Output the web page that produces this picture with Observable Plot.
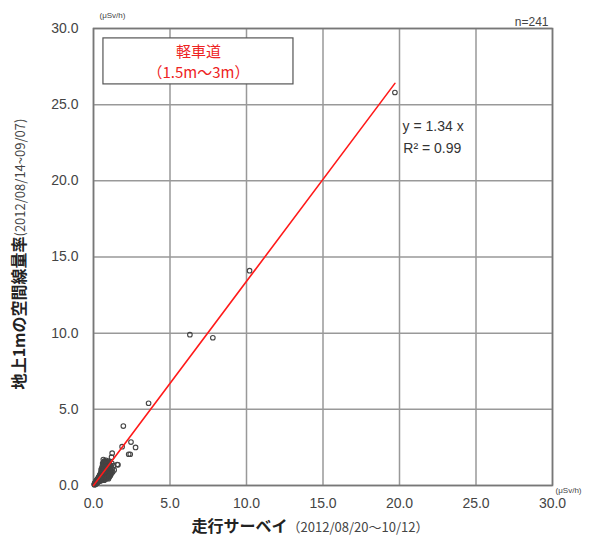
<!DOCTYPE html>
<html><head><meta charset="utf-8">
<script src="https://cdn.jsdelivr.net/npm/d3@7"></script>
<script src="https://cdn.jsdelivr.net/npm/@observablehq/plot@0.6"></script>
<style>
body{margin:0;background:#fff;}
#chart svg{display:block;}
</style>
</head><body><div id="chart"></div>
<script>
// Measurements: [走行サーベイ (x), 地上1m空間線量率 (y)]  μSv/h
const measurements = [
[19.7,25.8],[10.2,14.1],[6.3,9.9],[7.8,9.7],[3.6,5.4],[1.95,3.9],[2.45,2.85],[2.75,2.5],
[2.3,2.05],[2.4,2.05],[1.87,2.55],[1.22,2.12],[1.18,1.86],[1.55,1.38],[1.6,1.36],[0.78,1.53],
[0.05,0.08],[0.06,0.05],[0.08,0.12],[0.1,0.1],[0.1,0.15],[0.12,0.2],[0.12,0.08],[0.14,0.18],
[0.15,0.22],[0.15,0.12],[0.16,0.25],[0.17,0.2],[0.18,0.15],[0.18,0.3],[0.2,0.22],[0.2,0.28],
[0.21,0.18],[0.22,0.35],[0.22,0.25],[0.23,0.3],[0.24,0.2],[0.25,0.38],[0.25,0.28],[0.26,0.33],
[0.27,0.24],[0.28,0.42],[0.28,0.3],[0.29,0.36],[0.3,0.26],[0.3,0.45],[0.31,0.38],[0.32,0.33],
[0.32,0.5],[0.33,0.28],[0.34,0.42],[0.35,0.55],[0.35,0.36],[0.36,0.47],[0.37,0.3],[0.38,0.6],
[0.38,0.44],[0.39,0.5],[0.4,0.38],[0.4,0.65],[0.41,0.55],[0.42,0.45],[0.42,0.7],[0.43,0.33],
[0.44,0.6],[0.45,0.52],[0.45,0.75],[0.46,0.4],[0.47,0.66],[0.48,0.56],[0.48,0.82],[0.49,0.45],
[0.5,0.7],[0.5,0.9],[0.51,0.6],[0.52,0.38],[0.53,0.78],[0.54,0.66],[0.55,0.95],[0.55,0.5],
[0.56,0.72],[0.57,0.85],[0.58,0.6],[0.58,1.02],[0.6,0.45],[0.6,0.8],[0.61,0.68],[0.62,0.95],
[0.62,1.1],[0.63,0.55],[0.64,0.85],[0.65,0.75],[0.65,1.15],[0.66,0.62],[0.67,0.98],[0.68,0.5],
[0.68,1.2],[0.69,0.88],[0.7,0.72],[0.7,1.05],[0.71,1.3],[0.72,0.6],[0.73,0.95],[0.74,0.8],
[0.75,1.25],[0.75,0.42],[0.76,1.1],[0.77,0.68],[0.78,1.35],[0.79,0.9],[0.8,0.55],[0.8,1.18],
[0.81,1.45],[0.82,0.75],[0.83,1.0],[0.84,1.3],[0.85,0.62],[0.86,1.55],[0.87,0.88],[0.88,1.2],
[0.89,0.7],[0.9,1.4],[0.9,0.5],[0.92,1.05],[0.93,0.8],[0.94,1.6],[0.95,0.65],[0.96,1.25],
[0.97,0.95],[0.98,0.45],[1.0,1.1],[1.0,0.75],[1.02,1.5],[1.03,0.58],[1.05,0.9],[1.06,1.35],
[1.08,0.7],[1.1,1.0],[1.12,0.82],[1.15,1.25],[1.18,0.95],[1.2,1.45],[1.22,1.1],[1.25,0.88],
[1.3,1.3],[1.35,1.02],
[0.07,0.1],[0.09,0.07],[0.11,0.13],[0.13,0.16],[0.13,0.1],[0.14,0.22],[0.16,0.14],[0.17,0.24],
[0.19,0.2],[0.19,0.27],[0.2,0.16],[0.21,0.3],[0.22,0.2],[0.23,0.27],[0.24,0.33],[0.24,0.24],
[0.25,0.2],[0.26,0.4],[0.27,0.3],[0.28,0.36],[0.29,0.27],[0.3,0.4],[0.3,0.33],[0.31,0.45],
[0.32,0.28],[0.33,0.4],[0.33,0.48],[0.34,0.35],[0.35,0.44],[0.36,0.32],[0.36,0.52],[0.37,0.42],
[0.38,0.36],[0.39,0.57],[0.4,0.48],[0.41,0.4],[0.42,0.6],[0.43,0.52],[0.44,0.44],[0.45,0.64],
[0.46,0.56],[0.47,0.48],[0.48,0.7],[0.49,0.6],[0.5,0.5],[0.51,0.78],[0.52,0.64],[0.53,0.55],
[0.54,0.85],[0.55,0.7],[0.56,0.58],[0.57,0.9],[0.58,0.75],[0.59,0.66],[0.6,0.98],[0.61,0.84],
[0.62,0.72],[0.63,1.05],[0.64,0.92],[0.65,0.66],[0.66,1.12],[0.67,0.82],[0.68,1.0],[0.69,0.7],
[0.7,1.25],[0.71,0.92],[0.72,1.08],[0.73,0.75],[0.74,1.35],[0.75,0.98],[0.62,1.35],[0.66,1.5],
[0.7,1.6],[0.58,1.25],[0.55,1.15],[0.5,1.05],[0.6,1.45],[0.64,1.7],[0.72,1.45],[0.76,1.58],
[0.82,1.65],[0.85,1.4],[0.9,1.25],[0.95,1.45],[1.05,1.2],[0.45,0.3],[0.55,0.4],[0.65,0.45],
[0.7,0.35],[0.85,0.45],[0.95,0.55],[1.1,0.65],[1.15,0.75],[1.05,0.6]
];
const slope = 1.34;
const fitXs = [0, 19.7];
const tickValues = [0, 5, 10, 15, 20, 25, 30];
const legendBox = [{x1: 0.65, x2: 13.07, y1: 26.33, y2: 29.35}];
const legendLines = [{x: 6.86, y: 28.45, text: "軽車道"}, {x: 6.86, y: 27.05, text: "（1.5m～3m）"}];
const equationLines = [{x: 20.2, y: 23.55, text: "y = 1.34 x"}, {x: 20.25, y: 22.15, text: "R² = 0.99"}];
const countLabel = "n=241";
const unitLabel = "(μSv/h)";
const yTitle = ["地上1mの空間線量率", "(2012/08/14~09/07)"];
const xTitle = ["走行サーベイ", "（2012/08/20～10/12）"];

const fit = fitXs.map(x => ({x, y: slope * x}));
const font = "'Liberation Sans', Arial, sans-serif";
const jfont = "'Noto Sans CJK JP', sans-serif";

const svg = Plot.plot({
  width: 598, height: 543,
  marginLeft: 93, marginRight: 46, marginTop: 28, marginBottom: 58,
  style: {fontFamily: font, fontSize: "14px", color: "#444", background: "#fff", overflow: "visible"},
  x: {domain: [0, 30], ticks: tickValues, tickFormat: d => d.toFixed(1), tickSize: 0, tickPadding: 13, label: null},
  y: {domain: [0, 30], ticks: tickValues, tickFormat: d => d.toFixed(1), tickSize: 0, tickPadding: 15, label: null},
  marks: [
    Plot.gridX(tickValues, {stroke: "#999", strokeOpacity: 1, strokeWidth: 1.5}),
    Plot.gridY(tickValues, {stroke: "#999", strokeOpacity: 1, strokeWidth: 1.5}),
    Plot.frame({stroke: "#777", strokeWidth: 1.6}),
    Plot.rect(legendBox, {x1: "x1", x2: "x2", y1: "y1", y2: "y2", fill: "#fff", stroke: "#555", strokeWidth: 1.2}),
    Plot.text(legendLines, {x: "x", y: "y", text: "text", fill: "#ee2222", fontSize: 15, lineHeight: 1, fontFamily: jfont}),
    Plot.dot(measurements, {x: d => d[0], y: d => d[1], r: 2.3, stroke: "#444", strokeWidth: 1.1, fill: "none"}),
    Plot.line(fit, {x: "x", y: "y", stroke: "#ff1a1a", strokeWidth: 1.6}),
    Plot.text(equationLines, {x: "x", y: "y", text: "text", textAnchor: "start", fill: "#333", fontSize: 14, fontFamily: font}),
    Plot.text([countLabel], {frameAnchor: "top-right", dy: -11, dx: -4, text: d => d, fill: "#444", fontSize: 12, fontFamily: font}),
    Plot.text([unitLabel], {frameAnchor: "top-left", dy: -16, dx: 6, text: d => d, fill: "#444", fontSize: 8, fontFamily: font}),
    Plot.text([unitLabel], {frameAnchor: "bottom-right", dy: 7, dx: 29, text: d => d, fill: "#444", fontSize: 8, fontFamily: font})
  ]
});

const s = d3.select(svg);
const yt = s.append("text")
  .attr("transform", "translate(21,254) rotate(-90)")
  .attr("text-anchor", "middle")
  .attr("dominant-baseline", "middle")
  .attr("fill", "#222");
yt.append("tspan").attr("font-family", jfont).attr("font-size", 16).attr("font-weight", "bold").text(yTitle[0]);
yt.append("tspan").attr("font-family", jfont).attr("font-size", 13).attr("fill", "#444").text(yTitle[1]);

const xt = s.append("text")
  .attr("transform", "translate(310,528)")
  .attr("text-anchor", "middle")
  .attr("dominant-baseline", "middle")
  .attr("fill", "#222");
xt.append("tspan").attr("font-family", jfont).attr("font-size", 16).attr("font-weight", "bold").text(xTitle[0]);
xt.append("tspan").attr("font-family", jfont).attr("font-size", 13).attr("fill", "#444").text(xTitle[1]);

document.getElementById("chart").appendChild(svg);
</script>
</body></html>
